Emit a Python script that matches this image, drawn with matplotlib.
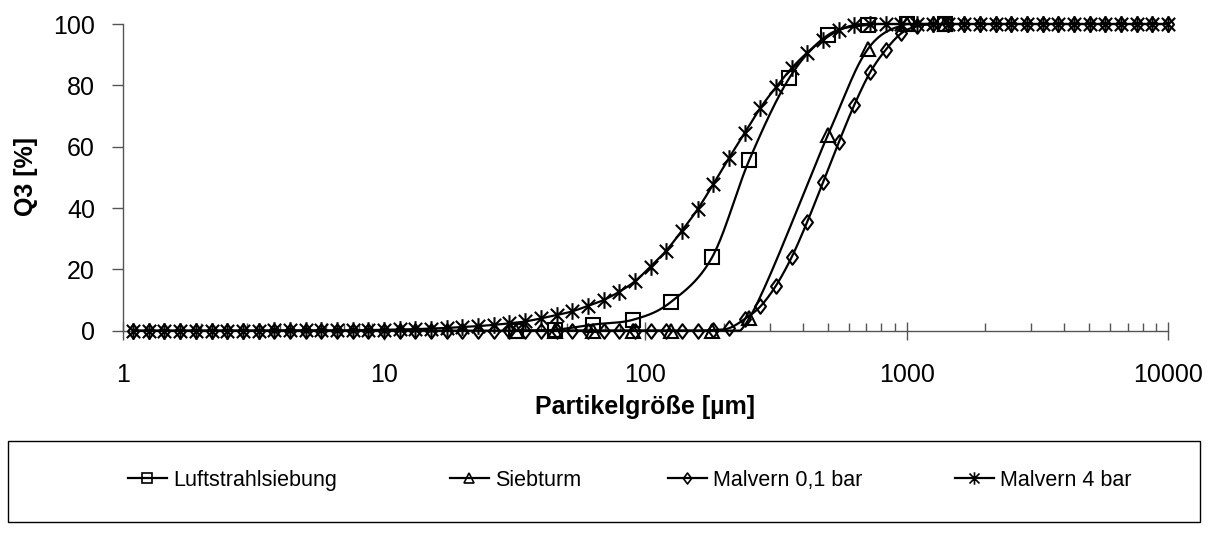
import numpy as np
import matplotlib
matplotlib.use("Agg")
import matplotlib.pyplot as plt
from matplotlib.path import Path
from matplotlib.lines import Line2D
from matplotlib.patches import Rectangle
from matplotlib.ticker import FixedLocator, NullFormatter

plt.rcParams['font.family'] = ['Liberation Sans', 'DejaVu Sans']

# Malvern Messpunkte (log-äquidistante Klassen)
malvern_x = [1.096, 1.259, 1.445, 1.660, 1.905, 2.188, 2.512, 2.884, 3.311, 3.802,
             4.365, 5.012, 5.754, 6.607, 7.586, 8.710, 10.00, 11.48, 13.18, 15.14,
             17.38, 19.95, 22.91, 26.30, 30.20, 34.67, 39.81, 45.71, 52.48, 60.26,
             69.18, 79.43, 91.20, 104.7, 120.2, 138.0, 158.5, 182.0, 208.9, 239.9,
             275.4, 316.2, 363.1, 416.9, 478.6, 549.5, 631.0, 724.4, 831.8, 955.0,
             1096, 1259, 1445, 1660, 1905, 2188, 2512, 2884, 3311, 3802,
             4365, 5012, 5754, 6607, 7586, 8710, 10000]

malvern_01 = [0, 0, 0, 0, 0, 0, 0, 0, 0, 0,
              0, 0, 0, 0, 0, 0, 0, 0, 0, 0,
              0, 0, 0, 0, 0, 0, 0, 0, 0, 0,
              0, 0, 0, 0, 0, 0, 0, 0.2, 0.8, 3.8,
              7.9, 14.7, 24.0, 35.6, 48.4, 61.4, 73.7, 84.2, 91.6, 97.0,
              99.3, 99.9, 100, 100, 100, 100, 100, 100, 100, 100,
              100, 100, 100, 100, 100, 100, 100]

malvern_4 = [0, 0, 0, 0, 0, 0, 0, 0, 0, 0.1,
             0.1, 0.1, 0.1, 0.1, 0.1, 0.2, 0.3, 0.4, 0.5, 0.7,
             0.9, 1.2, 1.5, 1.9, 2.4, 3.0, 4.0, 5.1, 6.3, 8.1,
             10.0, 12.7, 16.1, 20.9, 26.1, 32.6, 39.6, 47.8, 56.3, 64.4,
             72.6, 79.4, 85.6, 90.7, 94.8, 97.9, 99.7, 100, 100, 100,
             100, 100, 100, 100, 100, 100, 100, 100, 100, 100,
             100, 100, 100, 100, 100, 100, 100]

# Siebanalysen
luft_x = [32, 45, 63, 90, 125, 180, 250, 355, 500, 710, 1000, 1400]
luft_y = [0, 0.3, 2.0, 3.6, 9.3, 23.9, 55.7, 82.3, 96.4, 99.7, 100, 100]

sieb_x = [32, 45, 63, 90, 125, 180, 250, 500, 710, 1000, 1400]
sieb_y = [0, 0, 0, 0, 0, 0, 4.1, 63.9, 91.8, 100, 100]

x_ticks = [1, 10, 100, 1000, 10000]
x_labels = ['1', '10', '100', '1000', '10000']
y_ticks = [0, 20, 40, 60, 80, 100]

W, H = 1218, 541


def glatt(xs, ys, n=24):
    # Excel-artige Glättung (Bezier / Catmull-Rom) in log-x
    p = np.column_stack([np.log10(xs), ys])
    out = [p[0]]
    for i in range(len(p) - 1):
        p0 = p[i - 1] if i > 0 else p[i]
        p1, p2 = p[i], p[i + 1]
        p3 = p[i + 2] if i + 2 < len(p) else p[i + 1]
        c1 = p1 + (p2 - p0) / 6
        c2 = p2 - (p3 - p1) / 6
        t = np.linspace(0, 1, n)[1:, None]
        seg = ((1 - t) ** 3) * p1 + 3 * ((1 - t) ** 2) * t * c1 + 3 * (1 - t) * t ** 2 * c2 + t ** 3 * p2
        out.extend(seg)
    out = np.array(out)
    return 10 ** out[:, 0], np.clip(out[:, 1], 0, 100)


stern = Path([(0, -1), (0, 1), (-0.8, -0.8), (0.8, 0.8), (-0.8, 0.8), (0.8, -0.8)],
             [Path.MOVETO, Path.LINETO, Path.MOVETO, Path.LINETO, Path.MOVETO, Path.LINETO])
raute = Path([(0, -1), (0.75, 0), (0, 1), (-0.75, 0), (0, -1)],
             [Path.MOVETO, Path.LINETO, Path.LINETO, Path.LINETO, Path.CLOSEPOLY])

serien = [
    ('Luftstrahlsiebung', luft_x, luft_y, 's', 9.5),
    ('Siebturm', sieb_x, sieb_y, '^', 10),
    ('Malvern 0,1 bar', malvern_x, malvern_01, raute, 10.5),
    ('Malvern 4 bar', malvern_x, malvern_4, stern, 12),
]

fig = plt.figure(figsize=(W / 100, H / 100), dpi=100)
ax = fig.add_axes([122.7 / W, 1 - 330.7 / H, (1168 - 122.7) / W, (330.7 - 24) / H])

handles = []
for name, xs, ys, m, ms in serien:
    gx, gy = glatt(xs, ys)
    ax.plot(gx, gy, color='black', lw=1.6, clip_on=False, zorder=3)
    ax.plot(xs, ys, ls='none', marker=m, ms=ms, mfc='none', mec='black', mew=1.5,
            clip_on=False, zorder=4)
    handles.append(Line2D([], [], color='black', lw=1.6, marker=m, ms=ms * 0.75,
                          mfc='none', mec='black', mew=1.2, label=name))

ax.set_xscale('log')
ax.set_xlim(1, 10000)
ax.set_ylim(0, 100)
ax.xaxis.set_major_locator(FixedLocator(x_ticks))
ax.set_xticklabels(x_labels)
minors = [d * m for d in x_ticks[:-1] for m in range(2, 10)]
ax.xaxis.set_minor_locator(FixedLocator(minors))
ax.xaxis.set_minor_formatter(NullFormatter())
ax.set_yticks(y_ticks)

for s in ['top', 'right']:
    ax.spines[s].set_visible(False)
for s in ['left', 'bottom']:
    ax.spines[s].set_color('#555555')
    ax.spines[s].set_linewidth(1.0)

ax.tick_params(axis='x', which='major', direction='inout', length=13, width=1,
               color='#555555', labelsize=18, pad=17)
ax.tick_params(axis='x', which='minor', direction='in', length=6, width=1, color='#555555')
ax.tick_params(axis='y', which='major', direction='out', length=8, width=1,
               color='#555555', labelsize=18, pad=12)

fig.text(26 / W, 1 - 177 / H, 'Q3 [%]', rotation=90, ha='center', va='center',
         fontsize=18, fontweight='bold')
fig.text(645 / W, 1 - 407 / H, 'Partikelgröße [µm]', ha='center', va='center',
         fontsize=18, fontweight='bold')

# Rahmen der Legende
fig.patches.append(Rectangle((8 / W, 1 - 522 / H), 1192 / W, 81 / H,
                             transform=fig.transFigure, fill=False,
                             edgecolor='black', lw=1.0))

# Legendeneinträge einzeln, wie in Excel verteilt
leg_x = [128, 450, 668, 955]
for h, lx in zip(handles, leg_x):
    fig.legend(handles=[h], loc='upper left', bbox_to_anchor=(lx / W, 1 - 470 / H),
               frameon=False, fontsize=15.5, handlelength=1.8, handletextpad=0.3,
               borderpad=0, borderaxespad=0)

fig.savefig('out.png', dpi=100)
